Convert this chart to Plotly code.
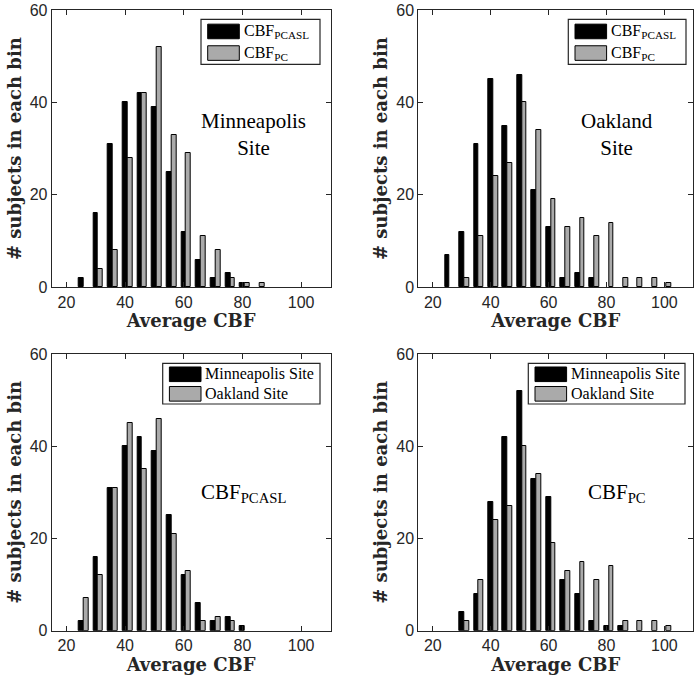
import plotly.graph_objects as go

bins = [25, 30, 35, 40, 45, 50, 55, 60, 65, 70, 75, 80, 85, 90, 95, 100]
minn_pcasl = [2, 16, 31, 40, 42, 39, 25, 12, 6, 2, 3, 1, 0, 0, 0, 0]
minn_pc = [0, 4, 8, 28, 42, 52, 33, 29, 11, 8, 2, 1, 1, 0, 0, 0]
oak_pcasl = [7, 12, 31, 45, 35, 46, 21, 13, 2, 3, 2, 0, 0, 0, 0, 0]
oak_pc = [0, 2, 11, 24, 27, 40, 34, 19, 13, 15, 11, 14, 2, 2, 2, 1]

x_ticks = [20, 40, 60, 80, 100]
y_ticks = [0, 20, 40, 60]

PCASL = "CBF<sub>PCASL</sub>"
PC = "CBF<sub>PC</sub>"

panels = [
    # (black values, gray values, black name, gray name, note)
    (minn_pcasl, minn_pc, PCASL, PC, "Minneapolis<br>Site"),
    (oak_pcasl, oak_pc, PCASL, PC, "Oakland<br>Site"),
    (minn_pcasl, oak_pcasl, "Minneapolis Site", "Oakland Site", PCASL),
    (minn_pc, oak_pc, "Minneapolis Site", "Oakland Site", PC),
]

W, H = 700, 676
xdoms = [[51.7 / W, 330.5 / W], [418.3 / W, 693.3 / W]]
ydoms = [[1 - 287.3 / H, 1 - 10 / H], [1 - 630.7 / H, 1 - 354 / H]]

BAR_W = 1.65
SERIF = "Liberation Serif"
SANS = "Liberation Sans"
BLACK = "#000000"
GRAY = "#aaaaaa"


def fx(px):
    return px / W


def fy(py):
    return 1 - py / H


def edge_widths(vals):
    return [1 if v > 0 else 0 for v in vals]


suffixes = ["", "2", "3", "4"]

fig = go.Figure()
for i, (vals_b, vals_g, name_b, name_g, note) in enumerate(panels):
    xa, ya = "x" + suffixes[i], "y" + suffixes[i]
    fig.add_trace(go.Bar(
        x=bins, y=vals_b, name=name_b, xaxis=xa, yaxis=ya, showlegend=False,
        width=BAR_W, offset=-BAR_W / 2,
        marker=dict(color=BLACK, line=dict(color=BLACK, width=edge_widths(vals_b))),
    ))
    fig.add_trace(go.Bar(
        x=bins, y=vals_g, name=name_g, xaxis=xa, yaxis=ya, showlegend=False,
        width=BAR_W, offset=BAR_W / 2,
        marker=dict(color=GRAY, line=dict(color=BLACK, width=edge_widths(vals_g))),
    ))

axis_common = dict(
    showgrid=False, zeroline=False, showline=True, linecolor="#262626", linewidth=1,
    mirror="allticks", ticks="inside", ticklen=5, tickcolor="#262626",
    tickfont=dict(family=SANS, size=16, color="#262626"), automargin=False,
)

layout = dict(
    width=W, height=H, margin=dict(l=0, r=0, t=0, b=0, autoexpand=False),
    paper_bgcolor="white", plot_bgcolor="white", barmode="overlay",
    bargap=0, showlegend=False,
)

for i, suf in enumerate(suffixes):
    col = i % 2
    row = i // 2
    layout["xaxis" + suf] = dict(
        axis_common, domain=xdoms[col], range=[15, 110], tickvals=x_ticks,
        anchor="y" + suf,
        title=dict(text="<b>Average CBF</b>", font=dict(family="DejaVu Serif", size=18, color="#262626"), standoff=2),
    )
    layout["yaxis" + suf] = dict(
        axis_common, domain=ydoms[row], range=[0, 60], tickvals=y_ticks,
        anchor="x" + suf,
        title=dict(text="<b># subjects in each bin</b>", font=dict(family="DejaVu Serif", size=18, color="#262626"), standoff=3),
    )

fig.update_layout(**layout)

# Legend boxes (drawn as framed boxes with swatches, like the MATLAB legends)
legend_boxes = [
    (201.0, 320.0, 19.3, 64.3),
    (568.3, 686.0, 19.3, 64.3),
    (162.7, 320.0, 363.3, 404.0),
    (528.3, 685.0, 363.3, 404.0),
]
shapes = []
annotations = []
for i, (x0, x1, y0, y1) in enumerate(legend_boxes):
    shapes.append(dict(type="rect", xref="paper", yref="paper",
                       x0=fx(x0), x1=fx(x1), y0=fy(y1), y1=fy(y0),
                       line=dict(color="#262626", width=1.2), fillcolor="white", layer="above"))
    bh = y1 - y0
    for k, (col, label) in enumerate([(BLACK, panels[i][2]), (GRAY, panels[i][3])]):
        cy = y0 + bh * (0.27 if k == 0 else 0.75)
        sx0 = x0 + 6.7
        sx1 = sx0 + 31.6
        shapes.append(dict(type="rect", xref="paper", yref="paper",
                           x0=fx(sx0), x1=fx(sx1), y0=fy(cy + 7.3), y1=fy(cy - 7.3),
                           line=dict(color=BLACK, width=1), fillcolor=col, layer="above"))
        annotations.append(dict(x=fx(sx1 + 2.5), y=fy(cy), xref="paper", yref="paper",
                                text=label, showarrow=False, xanchor="left", yanchor="middle",
                                font=dict(family=SERIF, size=16, color=BLACK)))

note_pos = [(253, 134), (617, 134), (243, 493), (617, 493)]
for i, p in enumerate(panels):
    nx, ny = note_pos[i]
    annotations.append(dict(
        x=fx(nx), y=fy(ny), xref="paper", yref="paper", text=p[4], showarrow=False,
        xanchor="center", yanchor="middle",
        font=dict(family=SERIF, size=21, color=BLACK), align="center",
    ))

fig.update_layout(shapes=shapes, annotations=annotations)

fig.write_html("out.html", config={"displayModeBar": False},
               post_script="document.body.style.margin='0px';")
